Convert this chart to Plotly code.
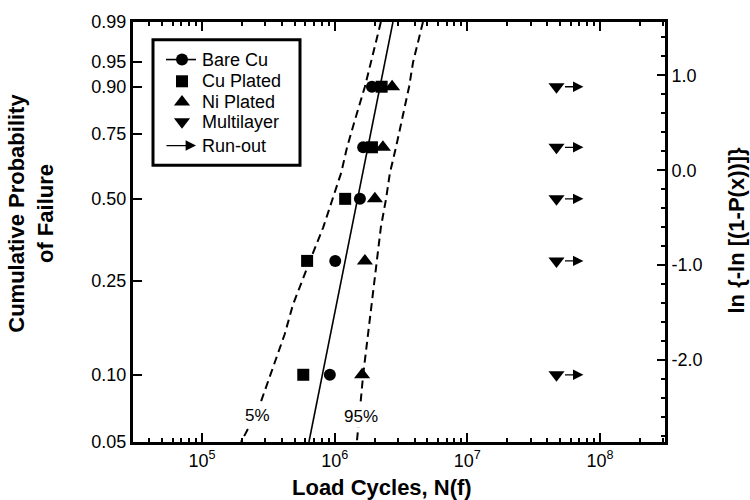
import numpy as np
import plotly.graph_objects as go

# ---------------- data ----------------
prob_levels = [0.10, 0.30, 0.50, 0.70, 0.90]
bare_cu = [9.2e5, 1.01e6, 1.55e6, 1.64e6, 1.91e6]
cu_plated = [5.8e5, 6.2e5, 1.20e6, 1.91e6, 2.26e6]
ni_plated = [1.61e6, 1.69e6, 2.01e6, 2.31e6, 2.71e6]
multilayer = [4.7e7, 4.7e7, 4.7e7, 4.7e7, 4.7e7]
runout_end = [7.5e7, 7.5e7, 7.5e7, 7.5e7, 7.5e7]

fit_prob = [0.05, 0.99]
fit_cycles = [6.4e5, 2.75e6]

band_prob = [0.99, 0.95, 0.90, 0.80, 0.70, 0.60, 0.50, 0.40, 0.30, 0.20, 0.15, 0.10, 0.07, 0.05]
lower_5 = [2.23e6, 1.88e6, 1.69e6, 1.42e6, 1.24e6, 1.12e6, 9.7e5, 8.2e5, 6.5e5, 4.85e5,
           4.2e5, 3.26e5, 2.65e5, 1.97e5]
upper_95 = [4.63e6, 3.90e6, 3.64e6, 3.22e6, 2.90e6, 2.61e6, 2.44e6, 2.23e6, 2.08e6, 1.91e6,
            1.78e6, 1.64e6, 1.55e6, 1.47e6]

prob_ticks = [0.05, 0.10, 0.25, 0.50, 0.75, 0.90, 0.95, 0.99]
prob_ticktext = ["0.05", "0.10", "0.25", "0.50", "0.75", "0.90", "0.95", "0.99"]
weibull_ticks = [-2.0, -1.0, 0.0, 1.0]
weibull_ticktext = ["-2.0", "-1.0", "0.0", "1.0"]
cycle_ticks = [1e5, 1e6, 1e7, 1e8]
cycle_ticktext = ["10<sup>5</sup>", "10<sup>6</sup>", "10<sup>7</sup>", "10<sup>8</sup>"]
legend_names = ["Bare Cu", "Cu Plated", "Ni Plated", "Multilayer", "Run-out"]


def wb(p):
    """Weibull probability scale: ln(-ln(1-P))."""
    return np.log(-np.log(1.0 - np.asarray(p, dtype=float)))


FONT = "Liberation Sans, Arial, Helvetica, sans-serif"
# plot frame in pixels
L, R, T, B = 133, 665, 17, 442


def px(xp):
    return (xp - L) / (R - L)


def py(yp):
    return (B - yp) / (B - T)


fig = go.Figure()

# confidence bands
for vals in (lower_5, upper_95):
    fig.add_trace(go.Scatter(x=vals, y=wb(band_prob), mode="lines",
                             line=dict(color="black", width=2, dash="8px,5px"),
                             showlegend=False, hoverinfo="skip"))
# fit line
fig.add_trace(go.Scatter(x=fit_cycles, y=wb(fit_prob), mode="lines",
                         line=dict(color="black", width=1.6), showlegend=False))

# data points
series = [(bare_cu, "circle", 12), (cu_plated, "square", 12),
          (ni_plated, "triangle-up", 14), (multilayer, "triangle-down", 14)]
for vals, sym, sz in series:
    fig.add_trace(go.Scatter(x=vals, y=wb(prob_levels), mode="markers",
                             marker=dict(symbol=sym, size=sz, color="black",
                                         line=dict(width=0)),
                             showlegend=False))

# right axis dummy trace
fig.add_trace(go.Scatter(x=[None], y=[None], yaxis="y2", showlegend=False))

annotations = []
# run-out arrows
for start, end, p in zip(multilayer, runout_end, prob_levels):
    annotations.append(dict(x=np.log10(end), y=float(wb(p)), ax=np.log10(start), ay=float(wb(p)),
                            xref="x", yref="y", axref="x", ayref="y", text="",
                            showarrow=True, arrowhead=2, arrowsize=1.6, arrowwidth=1.3,
                            arrowcolor="black", startstandoff=7))

# band labels
annotations.append(dict(x=np.log10(2.6e5), y=float(wb(0.066)), xref="x", yref="y",
                        text="5%", showarrow=False, bgcolor="white",
                        font=dict(family=FONT, size=17, color="black")))
annotations.append(dict(x=np.log10(1.58e6), y=float(wb(0.0653)), xref="x", yref="y",
                        text="95%", showarrow=False, bgcolor="white",
                        font=dict(family=FONT, size=17, color="black")))

# axis titles
annotations.append(dict(x=px(382), y=py(488), xref="paper", yref="paper",
                        text="<b>Load Cycles, N(f)</b>", showarrow=False,
                        xanchor="center", yanchor="middle",
                        font=dict(family=FONT, size=22, color="black")))
annotations.append(dict(x=px(31), y=py(211), xref="paper", yref="paper",
                        text="<b>Cumulative Probability<br>of Failure</b>", showarrow=False,
                        textangle=-90, xanchor="center", yanchor="middle",
                        font=dict(family=FONT, size=22, color="black")))
annotations.append(dict(x=px(737), y=py(228), xref="paper", yref="paper",
                        text="<b>ln {-ln [(1-P(x))]}</b>", showarrow=False,
                        textangle=-90, xanchor="center", yanchor="middle",
                        font=dict(family=FONT, size=22, color="black")))

# ---- manual legend ----
leg_rows = [55, 77, 98, 118, 142]
for name, yrow in zip(legend_names, leg_rows):
    annotations.append(dict(x=px(200), y=py(yrow), xref="paper", yref="paper",
                            text=name, showarrow=False, xanchor="left", yanchor="middle",
                            font=dict(family=FONT, size=18, color="black")))
annotations.append(dict(x=px(196), y=py(leg_rows[4]), xref="paper", yref="paper",
                        ax=-31, ay=0, axref="pixel", ayref="pixel", text="",
                        showarrow=True, arrowhead=2, arrowsize=1.6, arrowwidth=1.3,
                        arrowcolor="black"))

shapes = [
    dict(type="rect", xref="paper", yref="paper", x0=px(153), x1=px(300), y0=py(35), y1=py(162),
         line=dict(color="black", width=3), fillcolor="white", layer="below"),
    dict(type="line", xref="paper", yref="paper", x0=px(166), x1=px(196), y0=py(55), y1=py(55),
         line=dict(color="black", width=1.6)),
]

for (vals, sym, sz), yrow in zip(series, leg_rows[:4]):
    fig.add_trace(go.Scatter(x=[px(182)], y=[py(yrow)], xaxis="x3", yaxis="y3", mode="markers",
                             marker=dict(symbol=sym, size=sz, color="black", line=dict(width=0)),
                             showlegend=False, hoverinfo="skip"))

minor_x = [k * 10.0 ** d for d in range(4, 9) for k in range(2, 10)]

fig.update_layout(
    width=750, height=500,
    margin=dict(l=L, r=750 - R, t=T, b=500 - B, pad=0),
    paper_bgcolor="white", plot_bgcolor="rgba(0,0,0,0)",
    showlegend=False,
    font=dict(family=FONT, size=18, color="black"),
    xaxis=dict(type="log", range=[4.48, 8.49], tickmode="array", tickvals=cycle_ticks,
               ticktext=cycle_ticktext, ticks="inside", ticklen=9, tickwidth=2,
               tickcolor="black", showline=True, linewidth=3, linecolor="black",
               mirror="ticks", showgrid=False, zeroline=False,
               tickfont=dict(family=FONT, size=18, color="black"),
               minor=dict(tickmode="array", tickvals=minor_x, ticks="inside", ticklen=4,
                          tickwidth=1.5, tickcolor="black", showgrid=False)),
    yaxis=dict(range=[float(wb(0.05)), float(wb(0.99))], tickmode="array",
               tickvals=list(wb(prob_ticks)), ticktext=prob_ticktext, ticks="inside",
               ticklen=9, tickwidth=2, tickcolor="black", showline=True, linewidth=3,
               linecolor="black", showgrid=False, zeroline=False,
               tickfont=dict(family=FONT, size=18, color="black")),
    yaxis2=dict(overlaying="y", side="right", range=[-2.865, 1.5625], tickmode="array",
                tickvals=weibull_ticks, ticktext=weibull_ticktext, ticks="inside",
                ticklen=8, tickwidth=2, tickcolor="black", showline=True, linewidth=3,
                linecolor="black", showgrid=False, zeroline=False,
                tickfont=dict(family=FONT, size=18, color="black"),
                minor=dict(dtick=0.2, tick0=0, ticks="inside", ticklen=4, tickwidth=1.5,
                           tickcolor="black", showgrid=False)),
    xaxis3=dict(overlaying="x", anchor="y3", range=[0, 1], visible=False, fixedrange=True),
    yaxis3=dict(overlaying="y", anchor="x3", range=[0, 1], visible=False, fixedrange=True),
    annotations=annotations,
    shapes=shapes,
)

fig.write_html("out.html")
